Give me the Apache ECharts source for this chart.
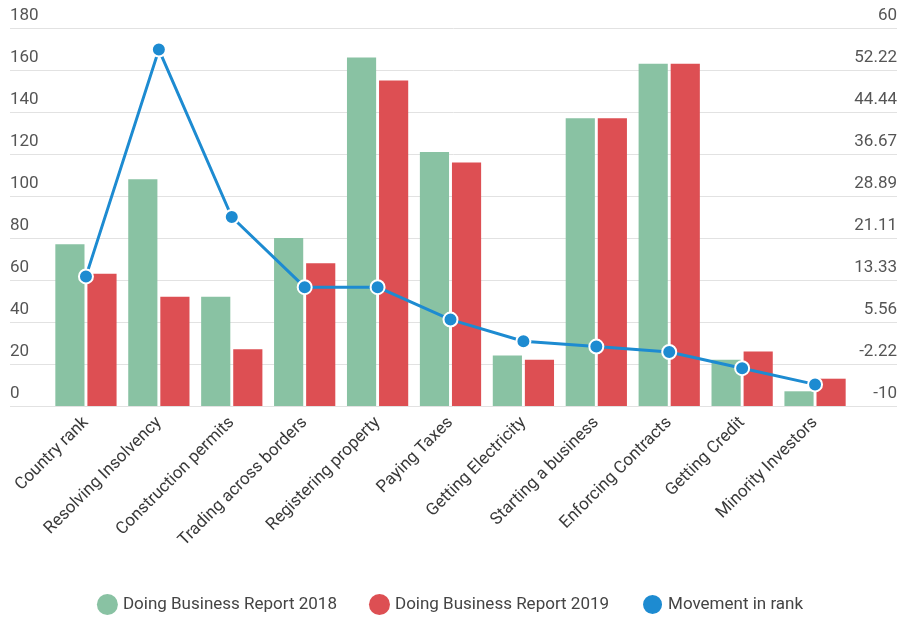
<!DOCTYPE html>
<html>
<head>
<meta charset="utf-8">
<script src="https://cdn.jsdelivr.net/npm/echarts@6/dist/echarts.min.js"></script>
<style>html,body{margin:0;padding:0;background:#fff}#c{width:900px;height:621px}</style>
</head>
<body>
<div id="c"></div>
<script>
const categories = ["Country rank","Resolving Insolvency","Construction permits","Trading across borders","Registering property","Paying Taxes","Getting Electricity","Starting a business","Enforcing Contracts","Getting Credit","Minority Investors"];
const report2018 = [77, 108, 52, 80, 166, 121, 24, 137, 163, 22, 7];
const report2019 = [63, 52, 27, 68, 155, 116, 22, 137, 163, 26, 13];
const movement = [14, 56, 25, 12, 12, 6, 2, 1, 0, -3, -6];
const leftMin = 0, leftMax = 180, leftInterval = 20;
const rightMin = -10, rightMax = 60;

const chart = echarts.init(document.getElementById('c'));
const font = 'Roboto, "Noto Sans", sans-serif';
const fmtRight = v => String(parseFloat(Number(v).toFixed(2)));
chart.setOption({
  animation: false,
  textStyle: { fontFamily: font },
  grid: [
    { left: 10, right: 3, top: 28, bottom: 215 },
    { left: 49.5, right: 48.5, top: 28, bottom: 215 }
  ],
  legend: {
    top: 588, left: 'center',
    icon: 'circle', itemWidth: 21, itemHeight: 21, itemGap: 32,
    textStyle: { fontSize: 17, color: '#444', fontFamily: font },
    data: ['Doing Business Report 2018', 'Doing Business Report 2019', 'Movement in rank']
  },
  xAxis: [
    { type: 'category', gridIndex: 1, data: categories,
      axisLine: { show: false }, axisTick: { show: false },
      axisLabel: { rotate: 45, margin: 14, fontSize: 17, color: '#3a3a3a', interval: 0 } },
    { type: 'category', gridIndex: 0, data: categories, show: false }
  ],
  yAxis: [
    { type: 'value', gridIndex: 0, position: 'left', min: leftMin, max: leftMax, interval: leftInterval,
      axisLine: { show: false }, axisTick: { show: false },
      splitLine: { lineStyle: { color: '#e2e2e2', width: 1 } },
      axisLabel: { inside: true, margin: 0, verticalAlign: 'bottom', padding: [0,0,4,0], fontSize: 17, color: '#555' } },
    { type: 'value', gridIndex: 0, position: 'right', min: rightMin, max: rightMax, alignTicks: true,
      axisLine: { show: false }, axisTick: { show: false }, splitLine: { show: false },
      axisLabel: { inside: true, margin: 0, verticalAlign: 'bottom', padding: [0,0,4,0], fontSize: 17, color: '#555', formatter: fmtRight } },
    { type: 'value', gridIndex: 1, show: false, min: leftMin, max: leftMax, splitLine: { show: false } },
    { type: 'value', gridIndex: 1, show: false, min: rightMin, max: rightMax, splitLine: { show: false } }
  ],
  series: [
    { name: 'Doing Business Report 2018', type: 'bar', xAxisIndex: 0, yAxisIndex: 2, data: report2018,
      barGap: '10%', barCategoryGap: '16%', itemStyle: { color: '#89c2a3' } },
    { name: 'Doing Business Report 2019', type: 'bar', xAxisIndex: 0, yAxisIndex: 2, data: report2019,
      itemStyle: { color: '#dd4f53' } },
    { name: 'Movement in rank', type: 'line', xAxisIndex: 0, yAxisIndex: 3, data: movement,
      symbol: 'circle', symbolSize: 14, z: 5,
      lineStyle: { color: '#1d8bd1', width: 3 },
      itemStyle: { color: '#1d8bd1', borderColor: '#fff', borderWidth: 2 } }
  ]
});
</script>
</body>
</html>
